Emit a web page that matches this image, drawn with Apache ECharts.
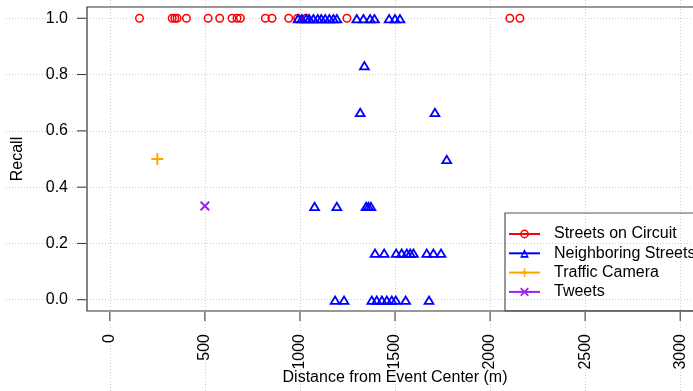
<!DOCTYPE html>
<html>
<head>
<meta charset="utf-8">
<script src="https://cdn.jsdelivr.net/npm/echarts@6/dist/echarts.min.js"></script>
<style>
    html, body { margin: 0; padding: 0; background: #fff; }
    #chart { width: 693px; height: 391px; }
</style>
</head>
<body>
<div id="chart"></div>
<script>
// 刻度
var xTicks = [0, 500, 1000, 1500, 2000, 2500, 3000];
var yTicks = [0, 0.2, 0.4, 0.6, 0.8, 1.0];

// Streets on Circuit
var circuitX = [156, 328, 342, 354, 403, 517, 578, 643, 669, 687, 818, 853, 941, 988, 1032, 1247, 2104, 2157];
var circuitY = [1, 1, 1, 1, 1, 1, 1, 1, 1, 1, 1, 1, 1, 1, 1, 1, 1, 1];

// Neighboring Streets
var neighborX = [990, 1010, 1032, 1049, 1071, 1094, 1112, 1133, 1155, 1176, 1194, 1299, 1334, 1369, 1392, 1469, 1500, 1526,
    1339,
    1317, 1710,
    1772,
    1077, 1194, 1348, 1360, 1373,
    1395, 1443, 1506, 1535, 1562, 1580, 1597, 1667, 1702, 1742,
    1185, 1232, 1378, 1404, 1431, 1457, 1483, 1504, 1556, 1679];
var neighborY = [1, 1, 1, 1, 1, 1, 1, 1, 1, 1, 1, 1, 1, 1, 1, 1, 1, 1,
    0.833,
    0.667, 0.667,
    0.5,
    0.333, 0.333, 0.333, 0.333, 0.333,
    0.167, 0.167, 0.167, 0.167, 0.167, 0.167, 0.167, 0.167, 0.167, 0.167,
    0, 0, 0, 0, 0, 0, 0, 0, 0, 0];

// Traffic Camera
var cameraX = [250];
var cameraY = [0.5];

// Tweets
var tweetX = [500];
var tweetY = [0.333];

var seriesNames = ['Streets on Circuit', 'Neighboring Streets', 'Traffic Camera', 'Tweets'];

function pairs(xs, ys) {
    return xs.map(function (x, i) {
        return [x, ys[i]];
    });
}

// 绘图区
var plot = { left: 87, top: 7, width: 616, height: 304 };
var xMin = -120, xMax = 3120, yMin = -0.04, yMax = 1.04;
var xPx = plot.width / (xMax - xMin);
var yPx = plot.height / (yMax - yMin);
var xStep = xTicks[1] - xTicks[0];
var yStep = yTicks[1] - yTicks[0];
var x0 = xTicks[0], x1 = xTicks[xTicks.length - 1];
var y0 = yTicks[0], y1 = yTicks[yTicks.length - 1];
var tickLen = 9;

var font = 'Liberation Sans';
var gridLine = { color: '#cfcfcf', width: 1, type: [1, 2] };
var dark = '#333';

// 空心符号
var ring = 'path://M0 4.5A4.5 4.5 0 1 0 9 4.5A4.5 4.5 0 1 0 0 4.5ZM1.5 4.5A3 3 0 1 1 7.5 4.5A3 3 0 1 1 1.5 4.5Z';
var tri = 'path://M0 10L6 0L12 10ZM8.82 8.2L6 3.5L3.18 8.2Z';
var plus = 'path://M5 0H7V5H12V7H7V12H5V7H0V5H5Z';
var cross = 'path://M0 1.4L1.4 0L5 3.6L8.6 0L10 1.4L6.4 5L10 8.6L8.6 10L5 6.4L1.4 10L0 8.6L3.6 5Z';

function dotSeries(name, data, color, symbol, size) {
    return {
        name: name,
        type: 'line',
        xAxisIndex: 0,
        yAxisIndex: 0,
        data: data,
        symbol: symbol,
        symbolSize: size,
        showSymbol: true,
        animation: false,
        itemStyle: { color: color },
        lineStyle: { color: color, width: 1, opacity: 0 },
        emphasis: { disabled: true }
    };
}

var chart = echarts.init(document.getElementById('chart'), null, { renderer: 'canvas' });

var option = {
    animation: false,
    backgroundColor: '#fff',
    textStyle: { fontFamily: font },
    grid: [{
        left: plot.left,
        top: plot.top,
        width: plot.width,
        height: plot.height,
        outerBoundsMode: 'none',
        containLabel: false,
        show: true,
        borderColor: dark,
        borderWidth: 1.2,
        z: 3
    }, {
        // 竖向网格线
        left: plot.left + (x0 - xMin) * xPx,
        width: (x1 - x0) * xPx,
        top: 0,
        height: 391,
        outerBoundsMode: 'none'
    }, {
        // 横向网格线
        left: 6,
        right: 0,
        top: plot.top + (yMax - y1) * yPx,
        height: (y1 - y0) * yPx,
        outerBoundsMode: 'none'
    }],
    xAxis: [{
        gridIndex: 0,
        type: 'value',
        min: xMin,
        max: xMax,
        position: 'bottom',
        name: 'Distance from Event Center (m)',
        nameLocation: 'middle',
        nameGap: 59,
        nameMoveOverlap: false,
        nameTextStyle: { fontSize: 16, color: '#000', fontFamily: font },
        axisLine: { show: false, onZero: false },
        axisTick: { show: false },
        axisLabel: {
            customValues: xTicks,
            rotate: 90,
            margin: 23,
            fontSize: 16,
            color: '#000',
            fontFamily: font,
            formatter: function (v) { return String(v); }
        },
        splitLine: { show: false }
    }, {
        gridIndex: 1,
        type: 'value',
        min: x0,
        max: x1,
        interval: xStep,
        axisLine: { show: false, onZero: false },
        axisTick: { show: false },
        axisLabel: { show: false },
        splitLine: { show: true, lineStyle: gridLine }
    }, {
        gridIndex: 2,
        type: 'value',
        show: false
    }],
    yAxis: [{
        gridIndex: 0,
        type: 'value',
        min: yMin,
        max: yMax,
        position: 'left',
        name: 'Recall',
        nameLocation: 'middle',
        nameRotate: 90,
        nameGap: 61,
        nameMoveOverlap: false,
        nameTextStyle: { fontSize: 16, color: '#000', fontFamily: font },
        axisLine: { show: false, onZero: false },
        axisTick: { show: false },
        axisLabel: {
            customValues: yTicks,
            margin: 19,
            fontSize: 16,
            color: '#000',
            fontFamily: font,
            formatter: function (v) { return v.toFixed(1); }
        },
        splitLine: { show: false }
    }, {
        gridIndex: 1,
        type: 'value',
        show: false
    }, {
        gridIndex: 2,
        type: 'value',
        min: y0,
        max: y1,
        interval: yStep,
        axisLine: { show: false, onZero: false },
        axisTick: { show: false },
        axisLabel: { show: false },
        splitLine: { show: true, lineStyle: gridLine }
    }],
    legend: {
        orient: 'vertical',
        left: 505,
        top: 213,
        padding: [13, 10, 11, 3],
        itemWidth: 31,
        itemHeight: 11,
        itemGap: 3.3,
        borderColor: '#555',
        borderWidth: 1.2,
        selectedMode: false,
        lineStyle: { width: 2, opacity: 1 },
        textStyle: { fontSize: 16, lineHeight: 16, color: '#000', fontFamily: font, padding: [0, 0, 0, 9] },
        data: seriesNames
    },
    series: [
        dotSeries(seriesNames[0], pairs(circuitX, circuitY), '#ff0000', ring, 9),
        dotSeries(seriesNames[1], pairs(neighborX, neighborY), '#0000ff', tri, [12, 10]),
        dotSeries(seriesNames[2], pairs(cameraX, cameraY), '#ffa500', plus, 12),
        dotSeries(seriesNames[3], pairs(tweetX, tweetY), '#a020f0', cross, 10)
    ]
};

chart.setOption(option);

// 刻度线：用坐标轴换算出像素位置后画在绘图区外侧
var tickEls = [];
xTicks.forEach(function (v) {
    var p = chart.convertToPixel({ gridIndex: 0 }, [v, yMin]);
    tickEls.push({
        type: 'line',
        silent: true,
        shape: { x1: p[0], y1: p[1] + 1, x2: p[0], y2: p[1] + 1 + tickLen },
        style: { stroke: dark, lineWidth: 1 }
    });
});
yTicks.forEach(function (v) {
    var p = chart.convertToPixel({ gridIndex: 0 }, [xMin, v]);
    tickEls.push({
        type: 'line',
        silent: true,
        shape: { x1: p[0] - 1 - tickLen, y1: p[1], x2: p[0] - 1, y2: p[1] },
        style: { stroke: dark, lineWidth: 1 }
    });
});
chart.setOption({ graphic: { elements: tickEls } });
</script>
</body>
</html>
